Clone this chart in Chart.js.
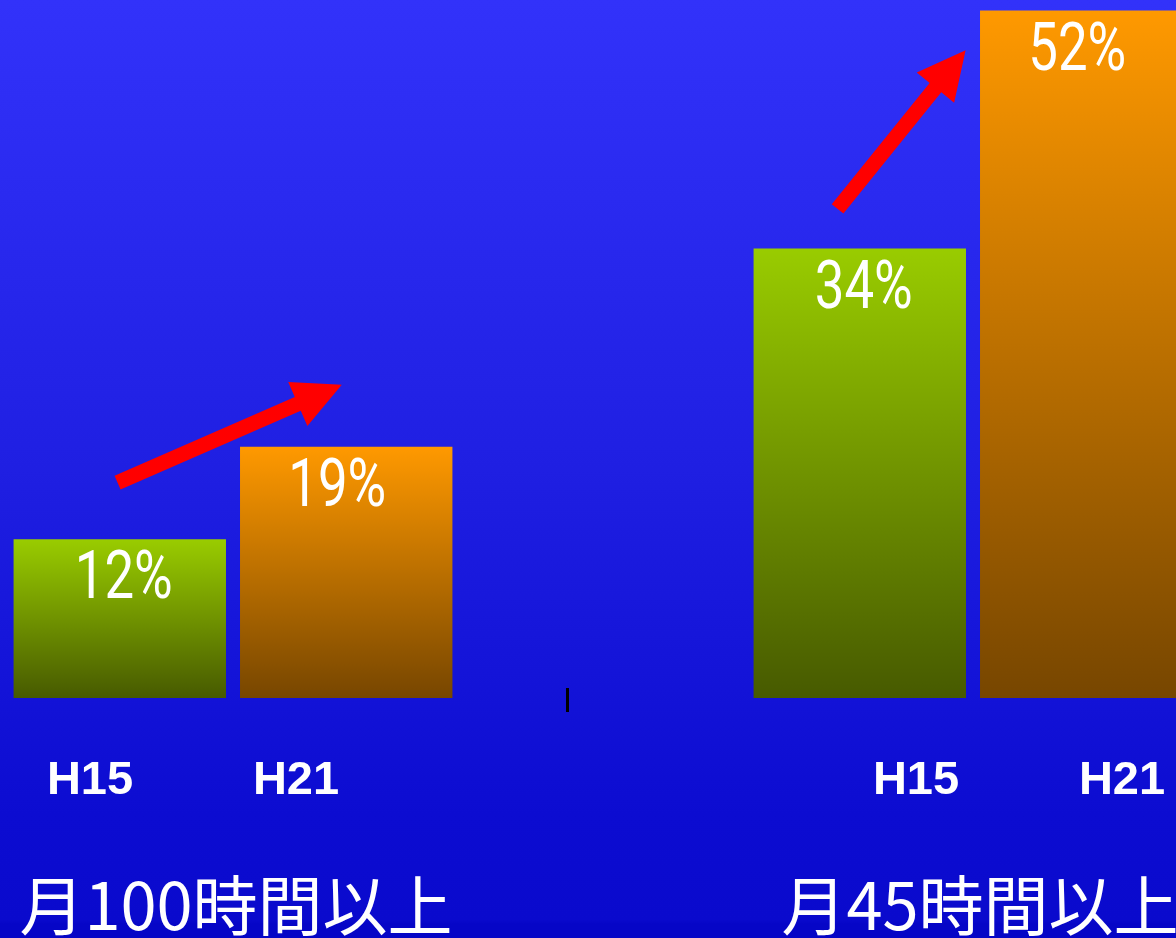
<!DOCTYPE html>
<html lang="ja">
<head>
<meta charset="utf-8">
<title>長時間労働の割合</title>
<script src="https://cdn.jsdelivr.net/npm/chart.js@4.4.1/dist/chart.umd.min.js"></script>
<style>
  html, body {
    margin: 0;
    padding: 0;
    width: 1176px;
    height: 938px;
    overflow: hidden;
    background: linear-gradient(#3232fa, #0b0bcf 90%, #0606c6);
  }
  #wrap {
    position: absolute;
    left: -137px;
    top: 0;
    width: 1480px;
    height: 938px;
  }
</style>
</head>
<body>
<div id="wrap"><canvas id="chart"></canvas></div>
<script>
// Share of workers by monthly overtime, survey years H15 and H21
const categories = ['月100時間以上', '月45時間以上'];
const seriesNames = ['H15', 'H21'];
const h15Values = [12, 34];
const h21Values = [19, 52];

const barColors = [
  { top: '#99cc00', bottom: '#475a00' },   // H15
  { top: '#ff9900', bottom: '#774600' }    // H21
];

function barGradient(ctx, pair) {
  const chart = ctx.chart;
  const yScale = chart.scales.y;
  if (!chart.chartArea || !yScale || typeof ctx.raw !== 'number') return pair.top;
  const yTop = yScale.getPixelForValue(ctx.raw);
  const yBase = yScale.getPixelForValue(0);
  const g = chart.ctx.createLinearGradient(0, yTop, 0, yBase);
  g.addColorStop(0, pair.top);
  g.addColorStop(1, pair.bottom);
  return g;
}

// Slide background: vertical blue gradient across the whole canvas
const slideBackground = {
  id: 'slideBackground',
  beforeDraw(chart) {
    const { ctx, width, height } = chart;
    const g = ctx.createLinearGradient(0, 0, 0, height);
    g.addColorStop(0, '#3232fa');
    g.addColorStop(0.5, '#1f1fe2');
    g.addColorStop(0.87, '#0c0cd1');
    g.addColorStop(0.98, '#0a0acd');
    g.addColorStop(0.985, '#0606c7');
    g.addColorStop(1, '#0606c6');
    ctx.save();
    ctx.fillStyle = g;
    ctx.fillRect(0, 0, width, height);
    ctx.restore();
  }
};

// Value labels inside the bars, year labels, group names, arrows
const slideText = {
  id: 'slideText',
  afterDatasetsDraw(chart, args, opts) {
    const { ctx } = chart;
    const x = chart.scales.x;
    const y = chart.scales.y;
    const catWidth = x.getPixelForValue(1) - x.getPixelForValue(0);

    // percentage labels
    chart.data.datasets.forEach((ds, di) => {
      const meta = chart.getDatasetMeta(di);
      meta.data.forEach((bar, i) => {
        ctx.save();
        ctx.translate(bar.x + opts.valueShift[di], bar.y + opts.valueDrop);
        ctx.scale(0.8, 1);
        ctx.font = '400 66px Roboto, "Noto Sans", sans-serif';
        ctx.fillStyle = '#ffffff';
        ctx.textAlign = 'center';
        ctx.textBaseline = 'alphabetic';
        ctx.fillText(ds.data[i] + '%', 0, 0);
        ctx.restore();
      });
    });

    // rising arrows from H15 to H21
    opts.arrows.forEach(a => {
      const cx = x.getPixelForValue(a.group);
      const x0 = cx + a.from[0] * catWidth, y0 = y.getPixelForValue(a.from[1]);
      const x1 = cx + a.to[0] * catWidth,   y1 = y.getPixelForValue(a.to[1]);
      drawArrow(ctx, x0, y0, x1, y1, 15, 48, 48, '#ff0000');
    });

    // small black tick mark on the baseline
    {
      const tx = x.getPixelForValue(0) + opts.tick.offset * catWidth;
      const base = y.getPixelForValue(0);
      ctx.save();
      ctx.fillStyle = '#000000';
      ctx.fillRect(Math.round(tx) - 1, base - 10, 3, 24);
      ctx.restore();
    }

    // survey year labels under the bars
    ctx.save();
    ctx.font = 'bold 47px "Liberation Sans", Arial, sans-serif';
    ctx.fillStyle = '#ffffff';
    ctx.textAlign = 'center';
    ctx.textBaseline = 'alphabetic';
    categories.forEach((c, gi) => {
      const gc = x.getPixelForValue(gi) + opts.yearShift[gi];
      seriesNames.forEach((name, si) => {
        ctx.fillText(name, gc + (si - 0.5) * opts.yearSpacing, opts.yearBaseline);
      });
    });
    ctx.restore();

    // group names at the bottom
    ctx.save();
    ctx.font = '400 65px "Noto Sans CJK JP", sans-serif';
    ctx.fillStyle = '#ffffff';
    ctx.textAlign = 'center';
    ctx.textBaseline = 'alphabetic';
    categories.forEach((c, gi) => {
      ctx.fillText(c, x.getPixelForValue(gi) + opts.groupShift[gi], opts.groupBaseline);
    });
    ctx.restore();
  }
};

function drawArrow(ctx, x0, y0, x1, y1, shaft, headLen, headWidth, color) {
  const ang = Math.atan2(y1 - y0, x1 - x0);
  const len = Math.hypot(x1 - x0, y1 - y0);
  ctx.save();
  ctx.translate(x0, y0);
  ctx.rotate(ang);
  ctx.fillStyle = color;
  ctx.beginPath();
  ctx.moveTo(0, -shaft / 2);
  ctx.lineTo(len - headLen, -shaft / 2);
  ctx.lineTo(len - headLen, -headWidth / 2);
  ctx.lineTo(len, 0);
  ctx.lineTo(len - headLen, headWidth / 2);
  ctx.lineTo(len - headLen, shaft / 2);
  ctx.lineTo(0, shaft / 2);
  ctx.closePath();
  ctx.fill();
  ctx.restore();
}

new Chart(document.getElementById('chart'), {
  type: 'bar',
  data: {
    labels: categories,
    datasets: [
      {
        label: seriesNames[0],
        data: h15Values,
        backgroundColor: ctx => barGradient(ctx, barColors[0]),
        borderWidth: 0
      },
      {
        label: seriesNames[1],
        data: h21Values,
        backgroundColor: ctx => barGradient(ctx, barColors[1]),
        borderWidth: 0
      }
    ]
  },
  options: {
    responsive: true,
    maintainAspectRatio: false,
    animation: false,
    devicePixelRatio: 1,
    categoryPercentage: 0.612,
    barPercentage: 0.938,
    layout: { padding: { left: 0, right: 0, top: 0, bottom: 240 } },
    scales: {
      x: { display: false, offset: true },
      y: { display: false, min: 0, max: 52.8 }
    },
    plugins: {
      legend: { display: false },
      tooltip: { enabled: false },
      slideText: {
        valueDrop: 59,
        valueShift: [4, -9],
        yearBaseline: 794,
        yearSpacing: 206,
        yearShift: [-40, 46],
        groupBaseline: 930,
        groupShift: [3, 7],
        tick: { offset: 0.452 },
        arrows: [
          { group: 0, from: [-0.156, 16.3], to: [0.147, 23.7] },
          { group: 1, from: [-0.183, 37.0], to: [-0.010, 49.0] }
        ]
      }
    }
  },
  plugins: [slideBackground, slideText]
});
</script>
</body>
</html>
